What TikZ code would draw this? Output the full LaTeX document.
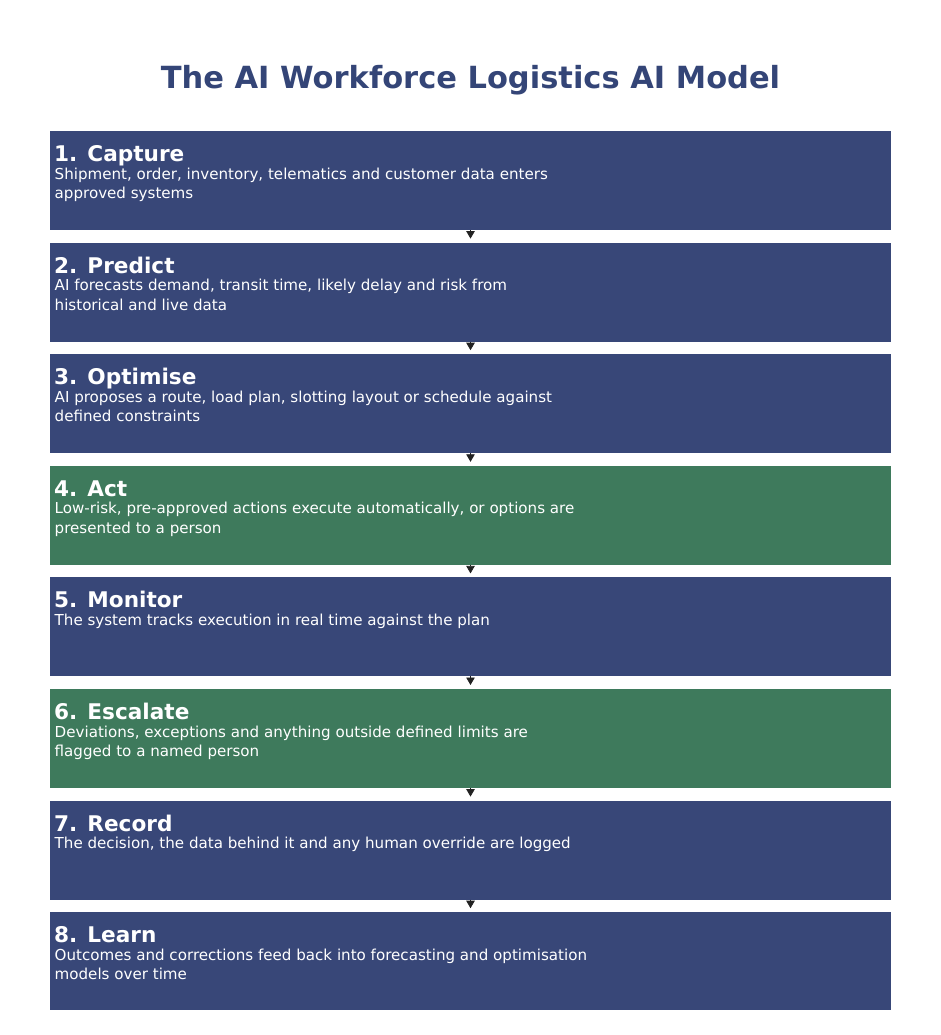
\documentclass[tikz,border=0pt]{standalone}
\usepackage{fontspec}
\setmainfont{DejaVu Sans}
\usetikzlibrary{arrows.meta}
\definecolor{stepblue}{HTML}{384778}
\definecolor{stepgreen}{HTML}{3E7A5C}
\definecolor{titleblue}{HTML}{344577}
\definecolor{arrowdark}{HTML}{222222}
\newcommand{\bodylines}[1]{\begin{tabular}[t]{@{}l@{}}#1\end{tabular}}
\tikzset{
  box/.style={draw=none, minimum width=841pt, minimum height=99pt, inner sep=0pt, outer sep=0pt},
  head/.style={anchor=base west, inner sep=0pt, text=white, font=\fontsize{21.6}{26}\selectfont\bfseries},
  body/.style={anchor=base west, inner sep=0pt, text=white, font=\fontsize{15.1}{19.6}\selectfont},
  arr/.style={draw=arrowdark, line width=0.8pt, -{Triangle[width=8.5pt,length=7.5pt]}, shorten >=4pt},
}
\begin{document}
\begin{tikzpicture}[x=1pt,y=-1pt]
\useasboundingbox (0,0) rectangle (941,1035);
\node[anchor=base, text=titleblue, font=\fontsize{30.5}{36}\selectfont\bfseries, inner sep=0pt] (title) at (470.5,89) {The AI Workforce Logistics AI Model};

% boxes
\node[box, fill=stepblue]  (b1) at (470.5,180.5) {};
\node[box, fill=stepblue]  (b2) at (470.5,292.1) {};
\node[box, fill=stepblue]  (b3) at (470.5,403.7) {};
\node[box, fill=stepgreen] (b4) at (470.5,515.3) {};
\node[box, fill=stepblue]  (b5) at (470.5,626.9) {};
\node[box, fill=stepgreen] (b6) at (470.5,738.5) {};
\node[box, fill=stepblue]  (b7) at (470.5,850.1) {};
\node[box, fill=stepblue, minimum height=98pt]  (b8) at (470.5,961.2) {};

% texts
\node[head] (h1) at (54,161.5) {1. Capture};
\node[body] (t1) at (54.5,179) {\bodylines{Shipment, order, inventory, telematics and customer data enters\\approved systems}};
\node[head] (h2) at (54,273.1) {2. Predict};
\node[body] (t2) at (54.5,290.6) {\bodylines{AI forecasts demand, transit time, likely delay and risk from\\historical and live data}};
\node[head] (h3) at (54,384.7) {3. Optimise};
\node[body] (t3) at (54.5,402.2) {\bodylines{AI proposes a route, load plan, slotting layout or schedule against\\defined constraints}};
\node[head] (h4) at (54,496.3) {4. Act};
\node[body] (t4) at (54.5,513.8) {\bodylines{Low-risk, pre-approved actions execute automatically, or options are\\presented to a person}};
\node[head] (h5) at (54,607.9) {5. Monitor};
\node[body] (t5) at (54.5,625.4) {The system tracks execution in real time against the plan};
\node[head] (h6) at (54,719.5) {6. Escalate};
\node[body] (t6) at (54.5,737) {\bodylines{Deviations, exceptions and anything outside defined limits are\\flagged to a named person}};
\node[head] (h7) at (54,831.1) {7. Record};
\node[body] (t7) at (54.5,848.6) {The decision, the data behind it and any human override are logged};
\node[head] (h8) at (54,942.7) {8. Learn};
\node[body] (t8) at (54.5,960.2) {\bodylines{Outcomes and corrections feed back into forecasting and optimisation\\models over time}};

% arrows
\draw[arr] (b1.south) -- (b2.north);
\draw[arr] (b2.south) -- (b3.north);
\draw[arr] (b3.south) -- (b4.north);
\draw[arr] (b4.south) -- (b5.north);
\draw[arr] (b5.south) -- (b6.north);
\draw[arr] (b6.south) -- (b7.north);
\draw[arr] (b7.south) -- (b8.north);
\end{tikzpicture}
\end{document}
